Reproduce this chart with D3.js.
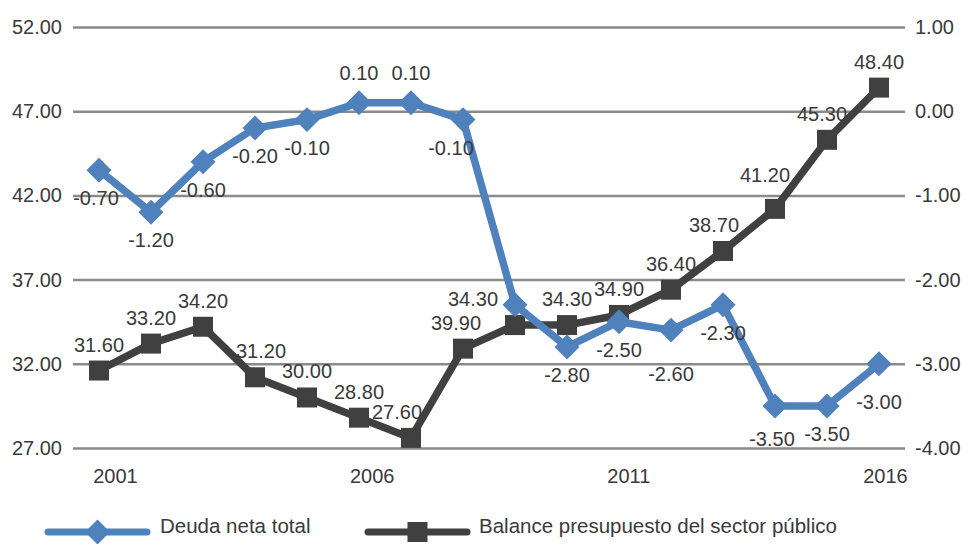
<!DOCTYPE html>
<html><head><meta charset="utf-8">
<script src="https://cdn.jsdelivr.net/npm/d3@7"></script>
<style>
body{margin:0;background:#fff;}
svg{display:block;font-family:"Liberation Sans",Arial,Helvetica,sans-serif;}
</style>
</head><body>
<svg id="chart" width="965" height="544"></svg>
<script>
// ---- data ----
const years = [2001,2002,2003,2004,2005,2006,2007,2008,2009,2010,2011,2012,2013,2014,2015,2016];
const deudaNeta = [-0.7,-1.2,-0.6,-0.2,-0.1,0.1,0.1,-0.1,-2.3,-2.8,-2.5,-2.6,-2.3,-3.5,-3.5,-3.0];
const deudaLabels = ["-0.70","-1.20","-0.60","-0.20","-0.10","0.10","0.10","-0.10",null,"-2.80","-2.50","-2.60","-2.30","-3.50","-3.50","-3.00"];
const balance = [31.6,33.2,34.2,31.2,30.0,28.8,27.6,32.9,34.3,34.3,34.9,36.4,38.7,41.2,45.3,48.4];
const balanceLabels = ["31.60","33.20","34.20","31.20","30.00","28.80","27.60","39.90","34.30","34.30","34.90","36.40","38.70","41.20","45.30","48.40"];
const leftTicks = [27,32,37,42,47,52];
const rightTicks = [-4,-3,-2,-1,0,1];
const yearTicks = [2001,2006,2011,2016];
const seriesNames = ["Deuda neta total","Balance presupuesto del sector público"];

// ---- styles ----
const BLUE = "#4F81BD", DARK = "#404040", GRID = "#8a8a8a", TEXT = "#3a3a3a";
const FS = 20;
const fmt2 = d => d.toFixed(2);

const svg = d3.select("#chart");
svg.append("rect").attr("width",965).attr("height",544).attr("fill","#fff");

const L = 73, R = 905, T = 27, B = 448;
const x = d3.scalePoint().domain(years).range([L,R]).padding(0.5);
const xLab = d3.scaleLinear().domain([2001,2016]).range([115,885]);
const yL = d3.scaleLinear().domain([27,52]).range([B,T]);
const yR = d3.scaleLinear().domain([-4,1]).range([B,T]);

// left axis + gridlines
const gL = svg.append("g").attr("transform",`translate(${L},0)`)
  .call(d3.axisLeft(yL).tickValues(leftTicks).tickFormat(fmt2).tickSize(-(R-L)).tickPadding(11));
gL.select(".domain").remove();
gL.selectAll(".tick line").attr("stroke",GRID).attr("stroke-width",2.5);
gL.selectAll(".tick text").attr("fill",TEXT).attr("font-size",FS).attr("font-family",null);

// right axis
const gR = svg.append("g").attr("transform",`translate(${R},0)`)
  .call(d3.axisRight(yR).tickValues(rightTicks).tickFormat(fmt2).tickSize(0).tickPadding(10));
gR.select(".domain").remove();
gR.selectAll(".tick text").attr("fill",TEXT).attr("font-size",FS).attr("font-family",null);

// x axis labels
const gX = svg.append("g").attr("transform",`translate(0,${B})`)
  .call(d3.axisBottom(xLab).tickValues(yearTicks).tickFormat(d3.format("d")).tickSize(0).tickPadding(21));
gX.select(".domain").remove();
gX.selectAll(".tick text").attr("fill",TEXT).attr("font-size",FS).attr("font-family",null);

// dark series (primary axis)
const lineDark = d3.line().x((d,i)=>x(years[i])).y(d=>yL(d));
svg.append("path").datum(balance).attr("d",lineDark).attr("fill","none")
  .attr("stroke",DARK).attr("stroke-width",7.5).attr("stroke-linejoin","round");
svg.append("g").selectAll("path").data(balance).join("path")
  .attr("d",d3.symbol(d3.symbolSquare,400))
  .attr("transform",(d,i)=>`translate(${x(years[i])},${yL(d)})`)
  .attr("fill",DARK);

// blue series (secondary axis)
const lineBlue = d3.line().x((d,i)=>x(years[i])).y(d=>yR(d));
svg.append("path").datum(deudaNeta).attr("d",lineBlue).attr("fill","none")
  .attr("stroke",BLUE).attr("stroke-width",7.5).attr("stroke-linejoin","round");
svg.append("g").selectAll("path").data(deudaNeta).join("path")
  .attr("d",d3.symbol(d3.symbolSquare,312))
  .attr("transform",(d,i)=>`translate(${x(years[i])},${yR(d)}) rotate(45)`)
  .attr("fill",BLUE);

// labels
const darkNudge = {2004:[6,0],2007:[-14,0],2008:[-7,0],2009:[-42,0],2013:[-9,0],2014:[-10,-8],2015:[-5,0]};
const blueNudge = {2001:[-3,0],2008:[-12,0],2012:[0,16],2014:[-3,5],2016:[0,10]};
const gLab = svg.append("g").attr("font-size",FS).attr("fill",TEXT).attr("text-anchor","middle");
gLab.selectAll("text.dk").data(balance).join("text").attr("class","dk")
  .attr("x",(d,i)=>x(years[i])+(darkNudge[years[i]]||[0,0])[0])
  .attr("y",(d,i)=>yL(d)-19+(darkNudge[years[i]]||[0,0])[1])
  .text((d,i)=>balanceLabels[i]);
gLab.selectAll("text.bl").data(deudaNeta).join("text").attr("class","bl")
  .attr("x",(d,i)=>x(years[i])+(blueNudge[years[i]]||[0,0])[0])
  .attr("y",(d,i)=>(d>0? yR(d)-23 : yR(d)+35)+(blueNudge[years[i]]||[0,0])[1])
  .text((d,i)=>deudaLabels[i]||"");

// legend
const legY = 532;
const leg = [
  {name:seriesNames[0],color:BLUE,x0:48,x1:147,sym:d3.symbol(d3.symbolSquare,312)(),rot:45,tx:160},
  {name:seriesNames[1],color:DARK,x0:368,x1:467,sym:d3.symbol(d3.symbolSquare,400)(),rot:0,tx:479}
];
const gLeg = svg.append("g");
leg.forEach(l=>{
  gLeg.append("line").attr("x1",l.x0).attr("x2",l.x1).attr("y1",legY).attr("y2",legY)
    .attr("stroke",l.color).attr("stroke-width",7).attr("stroke-linecap","round");
  gLeg.append("path").attr("d",l.sym).attr("fill",l.color)
    .attr("transform",`translate(${(l.x0+l.x1)/2},${legY}) rotate(${l.rot})`);
  gLeg.append("text").attr("x",l.tx).attr("y",legY+1).attr("font-size",20.5).attr("fill",TEXT).text(l.name);
});
</script>
</body></html>
